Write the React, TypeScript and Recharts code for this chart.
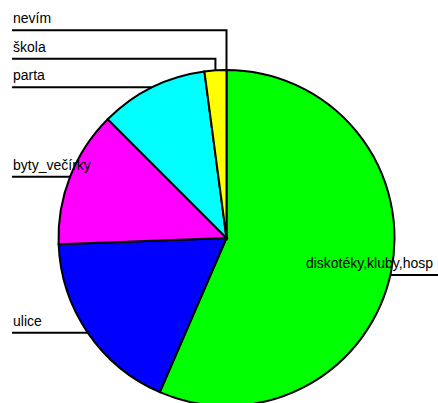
import { Cell, Pie, PieChart } from 'recharts'

const names = ['diskotéky,kluby,hosp', 'ulice', 'byty_večírky', 'parta', 'škola', 'nevím']
const values = [56.5, 17.9, 13.1, 10.4, 2.1, 0]
const colors = ['#00ff00', '#0000ff', '#ff00ff', '#00ffff', '#ffff00', '#ff8000']

const data = names.map((name, i) => ({ name, value: values[i] }))

const W = 438
const H = 403
const CX = 226.5
const CY = 238
const R = 168
const RAD = Math.PI / 180
const GAP = 28.5

// where each slice's leader line touches the rim, plus stacked y for the left-hand labels
function layoutLabels() {
  const total = values.reduce((a, b) => a + b, 0)
  let cum = 0
  const pts = values.map((v) => {
    const mid = 90 - ((cum + v / 2) / total) * 360
    cum += v
    return { x: CX + R * Math.cos(-mid * RAD), y: CY + R * Math.sin(-mid * RAD), lineY: 0, left: false }
  })
  pts.forEach((p) => {
    p.left = p.x <= CX + 0.01
    p.lineY = p.y
  })
  const left = pts.map((p, i) => i).filter((i) => pts[i].left).sort((a, b) => pts[b].y - pts[a].y)
  for (let k = 1; k < left.length; k++) {
    const prev = pts[left[k - 1]].lineY
    pts[left[k]].lineY = Math.min(pts[left[k]].y, prev - GAP)
  }
  return pts
}

const pts = layoutLabels()

const renderLabel = (props: any) => {
  const p = pts[props.index]
  const name = names[props.index]
  const ly = p.lineY + (p.left ? 0 : 3)
  if (p.left) {
    return (
      <g key={`lbl-${props.index}`}>
        <polyline points={`12,${ly} ${p.x},${ly} ${p.x},${p.y}`} fill="none" stroke="#000" strokeWidth={2} />
        <text x={13} y={ly - 7} fontSize={14} fontFamily="'Liberation Sans', Arial, sans-serif" fill="#000">
          {name}
        </text>
      </g>
    )
  }
  return (
    <g key={`lbl-${props.index}`}>
      <line x1={p.x} y1={ly} x2={W} y2={ly} stroke="#000" strokeWidth={2} />
      <text x={433} y={ly - 7} fontSize={14} textAnchor="end" fontFamily="'Liberation Sans', Arial, sans-serif" fill="#000">
        {name}
      </text>
    </g>
  )
}

export default function App() {
  return (
    <div style={{ position: 'absolute', left: 0, top: 0, width: W, height: H, background: '#fff' }}>
      <PieChart width={W} height={H} margin={{ top: 0, right: 0, bottom: 0, left: 0 }}>
        <Pie
          data={data}
          dataKey="value"
          nameKey="name"
          cx={CX}
          cy={CY}
          outerRadius={R}
          startAngle={90}
          endAngle={-270}
          stroke="#000"
          strokeWidth={2}
          label={renderLabel}
          labelLine={false}
          isAnimationActive={false}
        >
          {data.map((d, i) => (
            <Cell key={d.name} fill={colors[i]} />
          ))}
        </Pie>
      </PieChart>
    </div>
  )
}
